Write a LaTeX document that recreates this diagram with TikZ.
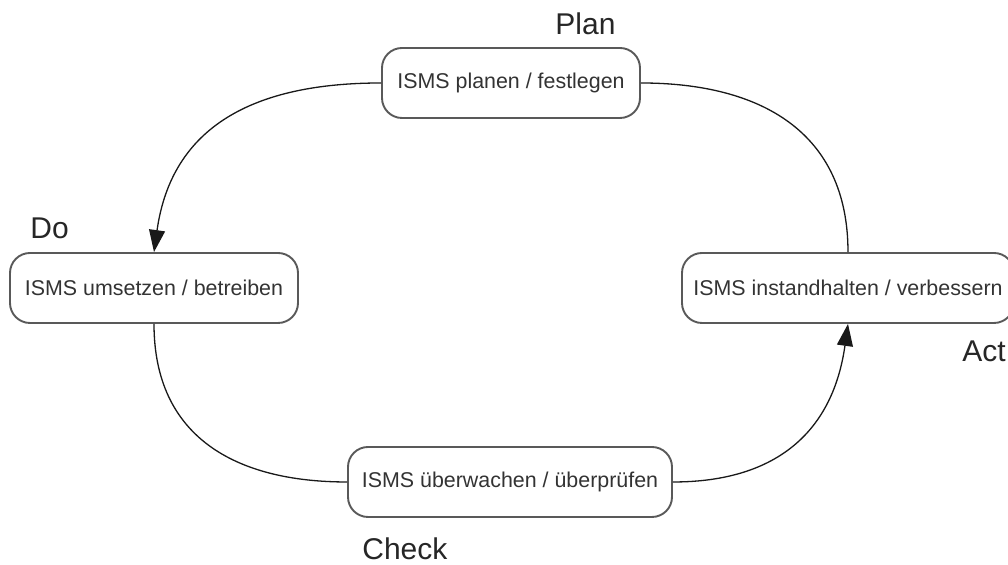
\documentclass[tikz,border=0pt]{standalone}
\usepackage{fontspec}
\setmainfont{Liberation Sans}
\usetikzlibrary{arrows.meta, positioning}

\begin{document}
\begin{tikzpicture}[x=0.5pt, y=0.5pt,
    phase/.style={draw=black!65, line width=0.95pt, rectangle, rounded corners=10pt,
        minimum height=35pt, text=black!80, font=\fontsize{10.7}{12}\selectfont},
    phasename/.style={anchor=west, inner sep=0pt, text=black!85, font=\fontsize{15}{17}\selectfont},
    link/.style={line width=0.65pt, black!90, looseness=1.15}]
    \useasboundingbox (0,0) rectangle (1008,565);

    % the four PDCA phases
    \node[phase, minimum width=129pt] (plan) at (511,482) {ISMS planen / festlegen};
    \node[phase, minimum width=144pt] (do) at (154,277) {ISMS umsetzen / betreiben};
    \node[phase, minimum width=166pt] (act) at (848,277) {ISMS instandhalten / verbessern};
    \node[phase, minimum width=162pt] (check) at (510,83) {ISMS überwachen / überprüfen};

    \node[phasename] (planname) at (555,541) {Plan};
    \node[phasename] (doname) at (30,337) {Do};
    \node[phasename] (actname) at (962,214) {Act};
    \node[phasename] (checkname) at (362,16) {Check};

    % cycle
    \draw[link, -{Triangle[length=11pt,width=8pt]}] (plan.west) to[out=180,in=82] (do.north);
    \draw[link] (do.south) to[out=-90,in=180] (check.west);
    \draw[link, -{Triangle[length=11pt,width=8pt]}] (check.east) to[out=0,in=-98] (act.south);
    \draw[link] (act.north) to[out=90,in=0] (plan.east);
\end{tikzpicture}
\end{document}
